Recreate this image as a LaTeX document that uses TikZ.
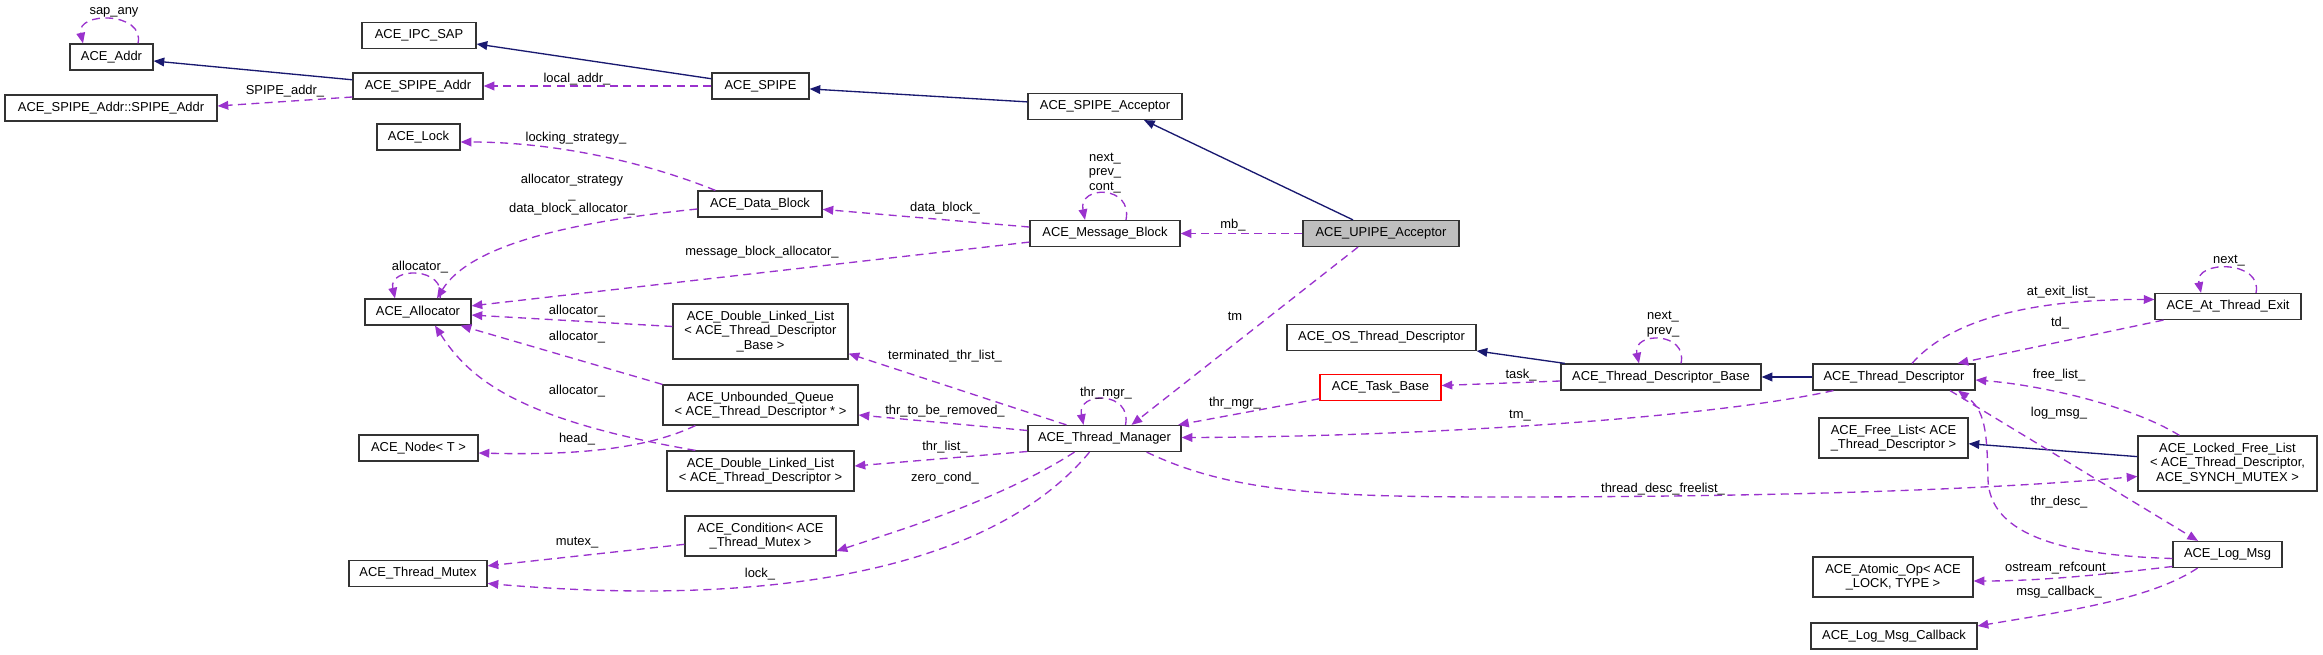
\documentclass[tikz,border=0pt]{standalone}
\usepackage{fontspec}
\setmainfont{Liberation Sans}
\usetikzlibrary{arrows.meta,calc}
\definecolor{usecol}{RGB}{154,50,205}
\definecolor{inhcol}{RGB}{25,25,112}
\tikzset{
  cls/.style={draw=black!80, line width=0.9pt, rectangle, minimum height=19.5pt, inner xsep=2pt, inner ysep=1pt, align=center, font=\fontsize{9.7}{10.9}\selectfont},
  wd/.style={minimum width=#1*0.75pt},
  ht/.style={minimum height=#1*0.75pt},
  lbl/.style={inner sep=0pt, align=center, font=\fontsize{9.7}{10.9}\selectfont},
  inh/.style={draw=inhcol, line width=1pt, -{Triangle[length=8pt,width=6.5pt]}},
  use/.style={draw=usecol, line width=1pt, dash pattern=on 6pt off 4pt, -{Triangle[length=8pt,width=6.5pt]}},
}
\begin{document}
\begin{tikzpicture}[x=0.75pt,y=-0.75pt]
    \useasboundingbox (0,0) rectangle (2323,655);

    \node[cls, wd=83] (addr) at (111.5,57) {ACE\_Addr};
    \node[cls, wd=114] (ipcsap) at (419,35.5) {ACE\_IPC\_SAP};
    \node[cls, wd=130] (spipeaddr) at (418,86) {ACE\_SPIPE\_Addr};
    \node[cls, wd=212] (spipeaddrinner) at (111,108) {ACE\_SPIPE\_Addr::SPIPE\_Addr};
    \node[cls, wd=83] (lock) at (418.5,137) {ACE\_Lock};
    \node[cls, wd=97] (spipe) at (760.5,86) {ACE\_SPIPE};
    \node[cls, wd=154] (spipeacc) at (1105,106.5) {ACE\_SPIPE\_Acceptor};
    \node[cls, wd=124] (datablock) at (760,204) {ACE\_Data\_Block};
    \node[cls, wd=150] (msgblock) at (1105,233.5) {ACE\_Message\_Block};
    \node[cls, wd=156, fill=black!25] (upipeacc) at (1381,233.5) {ACE\_UPIPE\_Acceptor};
    \node[cls, wd=106] (allocator) at (418,312) {ACE\_Allocator};
    \node[cls, wd=175, ht=55] (dlltdb) at (760.5,331.5) {ACE\_Double\_Linked\_List\\< ACE\_Thread\_Descriptor\\\_Base >};
    \node[cls, wd=195, ht=40] (uq) at (760.5,405) {ACE\_Unbounded\_Queue\\< ACE\_Thread\_Descriptor * >};
    \node[cls, wd=119] (listnode) at (418.5,448) {ACE\_Node< T >};
    \node[cls, wd=187, ht=40] (dlltd) at (760.5,471) {ACE\_Double\_Linked\_List\\< ACE\_Thread\_Descriptor >};
    \node[cls, wd=151, ht=40] (cond) at (760.5,536) {ACE\_Condition< ACE\\\_Thread\_Mutex >};
    \node[cls, wd=138] (mutex) at (418,573.5) {ACE\_Thread\_Mutex};
    \node[cls, wd=153] (thrmgr) at (1104.5,438.5) {ACE\_Thread\_Manager};
    \node[cls, wd=189] (osthr) at (1381.5,337.5) {ACE\_OS\_Thread\_Descriptor};
    \node[cls, wd=121, draw=red] (taskbase) at (1380.5,387.5) {ACE\_Task\_Base};
    \node[cls, wd=200] (tdb) at (1661,377) {ACE\_Thread\_Descriptor\_Base};
    \node[cls, wd=162] (td) at (1894,377) {ACE\_Thread\_Descriptor};
    \node[cls, wd=146] (atexit) at (2228,306.5) {ACE\_At\_Thread\_Exit};
    \node[cls, wd=149, ht=40] (freelist) at (1893.5,438) {ACE\_Free\_List< ACE\\\_Thread\_Descriptor >};
    \node[cls, wd=179, ht=55] (lockedfree) at (2227.5,463.5) {ACE\_Locked\_Free\_List\\< ACE\_Thread\_Descriptor,\\ACE\_SYNCH\_MUTEX >};
    \node[cls, wd=109] (logmsg) at (2227.5,554.5) {ACE\_Log\_Msg};
    \node[cls, wd=160, ht=40] (atomic) at (1893,577) {ACE\_Atomic\_Op< ACE\\\_LOCK, TYPE >};
    \node[cls, wd=166] (callback) at (1894,636) {ACE\_Log\_Msg\_Callback};

    \draw[inh] (spipeaddr) -- (addr);
    \draw[inh] (spipe) -- (ipcsap);
    \draw[inh] (spipeacc) -- (spipe);
    \draw[inh] ($(upipeacc.north)+(-28,0)$) -- ($(spipeacc.south)+(39,0)$);
    \draw[inh] (tdb) -- (osthr);
    \draw[inh] (td) -- (tdb);
    \draw[inh] (lockedfree) -- (freelist);

    \draw[use] ($(addr.north)+(26.5,0)$) .. controls +(7,-32) and +(-7,-32) .. ($(addr.north)+(-28.5,0)$);
    \draw[use] ($(spipeaddr.west)+(0,11)$) -- ($(spipeaddrinner.east)+(0,-2)$);
    \draw[use] (spipe) -- (spipeaddr);
    \draw[use] ($(datablock.north west)+(18,0)$) .. controls (640,160) and (550,142) .. ($(lock.east)+(0,5)$);
    \draw[use] ($(datablock.west)+(0,5)$) .. controls (570,222) and (470,245) .. ($(allocator.north)+(19,0)$);
    \draw[use] ($(allocator.north)+(22,0)$) .. controls +(7,-32) and +(-7,-32) .. ($(allocator.north)+(-23,0)$);
    \draw[use] (msgblock) -- (datablock);
    \draw[use] (msgblock) -- (allocator);
    \draw[use] ($(msgblock.north)+(21,0)$) .. controls +(7,-35) and +(-7,-35) .. ($(msgblock.north)+(-20,0)$);
    \draw[use] (upipeacc) -- (msgblock);
    \draw[use] ($(upipeacc.south)+(-23,0)$) -- ($(thrmgr.north)+(27,0)$);
    \draw[use] (dlltdb) -- (allocator);
    \draw[use] (uq.north west) -- ($(allocator.south east)+(-11,0)$);
    \draw[use] ($(dlltd.north west)+(29,0)$) .. controls (520,420) and (470,380) .. ($(allocator.south)+(17,0)$);
    \draw[use] ($(uq.south west)+(33,0)$) .. controls (640,452) and (560,455) .. ($(listnode.east)+(0,5)$);
    \draw[use] ($(thrmgr.north west)+(39,0)$) -- ($(dlltdb.south east)+(0,-6)$);
    \draw[use] ($(thrmgr.west)+(0,-8)$) -- ($(uq.east)+(0,10)$);
    \draw[use] ($(thrmgr.north)+(21,0)$) .. controls +(7,-34) and +(-7,-34) .. ($(thrmgr.north)+(-21,0)$);
    \draw[use] ($(thrmgr.west)+(0,13)$) -- ($(dlltd.east)+(0,-5)$);
    \draw[use] ($(thrmgr.south)+(-30,0)$) .. controls (1000,500) and (900,530) .. ($(cond.east)+(0,15)$);
    \draw[use] ($(thrmgr.south)+(-15,0)$) .. controls (1000,560) and (800,610) .. ($(mutex.east)+(0,10)$);
    \draw[use] (cond) -- (mutex);
    \draw[use] (taskbase) -- (thrmgr);
    \draw[use] ($(tdb.west)+(0,4)$) -- ($(taskbase.east)+(0,-2)$);
    \draw[use] ($(tdb.north)+(20,0)$) .. controls +(7,-32) and +(-7,-32) .. ($(tdb.north)+(-22,0)$);
    \draw[use] ($(td.south west)+(21,0)$) .. controls (1700,420) and (1400,437) .. ($(thrmgr.east)+(0,-1)$);
    \draw[use] ($(thrmgr.south east)+(-35,0)$) .. controls (1230,492) and (1320,497) .. (1500,497) .. controls (1900,497) and (2070,482) .. ($(lockedfree.west)+(0,13)$);
    \draw[use] ($(td.north)+(18,0)$) .. controls (1950,320) and (2030,299) .. ($(atexit.west)+(0,-7)$);
    \draw[use] ($(atexit.south west)+(9,0)$) -- ($(td.north east)+(-18,0)$);
    \draw[use] ($(atexit.north)+(28,0)$) .. controls +(7,-33) and +(-7,-33) .. ($(atexit.north)+(-27,0)$);
    \draw[use] ($(lockedfree.north west)+(42,0)$) .. controls (2130,405) and (2040,385) .. ($(td.east)+(0,3)$);
    \draw[use] ($(td.south)+(56,0)$) -- ($(logmsg.north)+(-29.5,0)$);
    \draw[use] ($(logmsg.west)+(0,4)$) .. controls (2050,555) and (1990,530) .. (1988,480) .. controls (1987,430) and (1985,410) .. ($(td.south)+(64,0)$);
    \draw[use] ($(logmsg.west)+(0,12)$) .. controls (2100,575) and (2040,581) .. ($(atomic.east)+(0,4)$);
    \draw[use] ($(logmsg.south)+(-30,0)$) .. controls (2150,600) and (2060,612) .. ($(callback.east)+(0,-10)$);

    \node[lbl] (l-sapany) at (114,12) {sap\_any};
    \node[lbl] (l-localaddr) at (577,79) {local\_addr\_};
    \node[lbl] (l-spipeaddr) at (285,91) {SPIPE\_addr\_};
    \node[lbl] (l-locking) at (576,138) {locking\_strategy\_};
    \node[lbl] (l-dballoc) at (572,195) {allocator\_strategy\\\_\\data\_block\_allocator\_};
    \node[lbl] (l-allocself) at (420,267) {allocator\_};
    \node[lbl] (l-mballoc) at (762,252) {message\_block\_allocator\_};
    \node[lbl] (l-datablock) at (945,208) {data\_block\_};
    \node[lbl] (l-mbself) at (1105,173) {next\_\\prev\_\\cont\_};
    \node[lbl] (l-mb) at (1233,225) {mb\_};
    \node[lbl] (l-tm) at (1235,316) {tm};
    \node[lbl] (l-alloc1) at (577,311) {allocator\_};
    \node[lbl] (l-alloc2) at (577,337) {allocator\_};
    \node[lbl] (l-alloc3) at (577,391) {allocator\_};
    \node[lbl] (l-head) at (577,439) {head\_};
    \node[lbl] (l-terminated) at (945,356) {terminated\_thr\_list\_};
    \node[lbl] (l-toberemoved) at (945,411) {thr\_to\_be\_removed\_};
    \node[lbl] (l-mgrself) at (1106,393) {thr\_mgr\_};
    \node[lbl] (l-thrlist) at (945,447) {thr\_list\_};
    \node[lbl] (l-zerocond) at (945,478) {zero\_cond\_};
    \node[lbl] (l-lock) at (760,574) {lock\_};
    \node[lbl] (l-mutex) at (577,543) {mutex\_};
    \node[lbl] (l-thrmgr) at (1235,403) {thr\_mgr\_};
    \node[lbl] (l-task) at (1521,375) {task\_};
    \node[lbl] (l-tdbself) at (1663,324) {next\_\\prev\_};
    \node[lbl] (l-tm2) at (1520,416) {tm\_};
    \node[lbl] (l-freelist) at (1663,489) {thread\_desc\_freelist\_};
    \node[lbl] (l-atexit) at (2061,292) {at\_exit\_list\_};
    \node[lbl] (l-td) at (2060,323) {td\_};
    \node[lbl] (l-exitself) at (2229,261) {next\_};
    \node[lbl] (l-free) at (2059,375) {free\_list\_};
    \node[lbl] (l-logmsg) at (2059,413) {log\_msg\_};
    \node[lbl] (l-thrdesc) at (2059,502) {thr\_desc\_};
    \node[lbl] (l-refcount) at (2059,568) {ostream\_refcount\_};
    \node[lbl] (l-callback) at (2059,592) {msg\_callback\_};
\end{tikzpicture}
\end{document}
